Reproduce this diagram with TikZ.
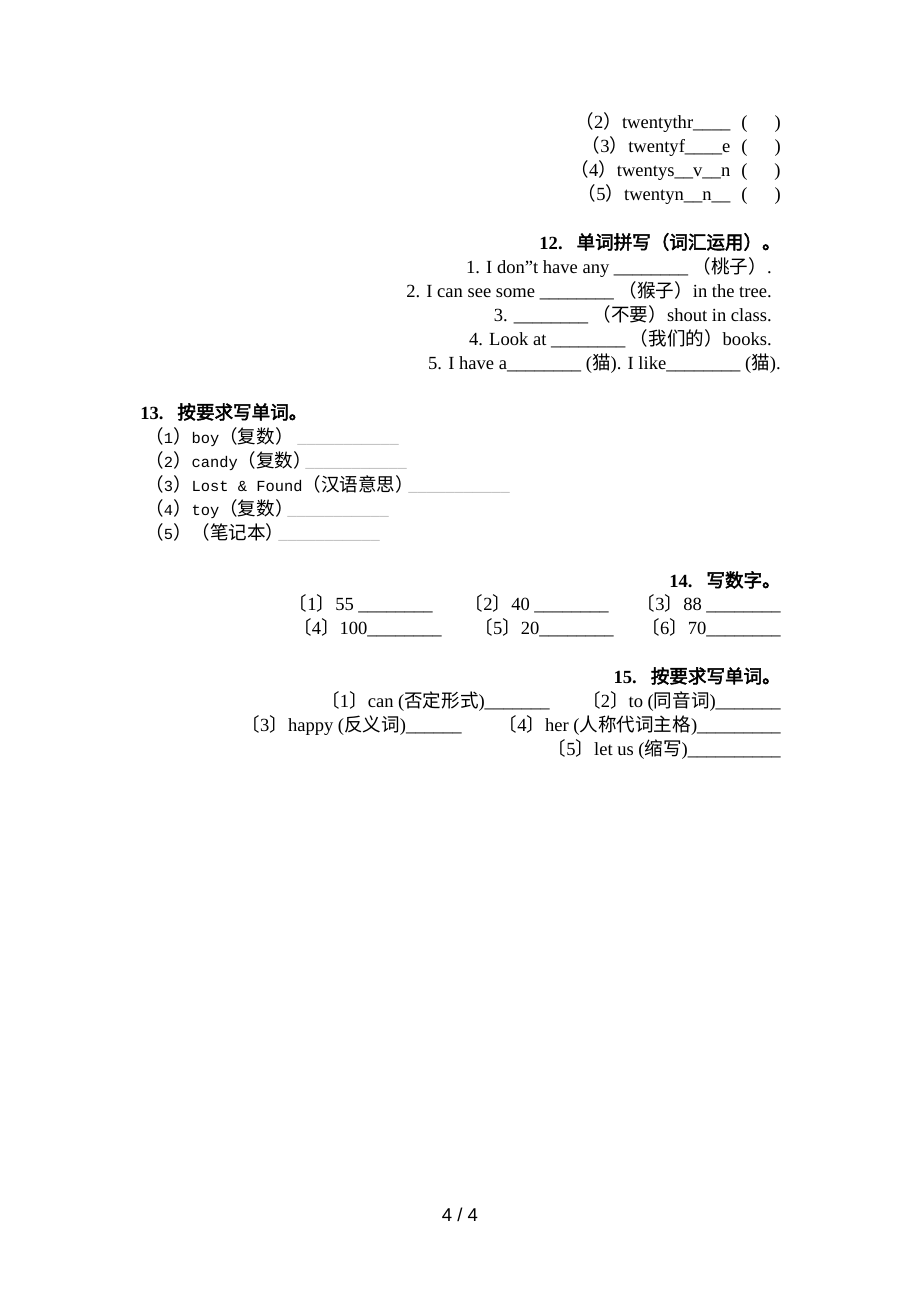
\documentclass[tikz,border=0pt]{standalone}
\usepackage{fontspec}
\setmainfont{Liberation Serif}
\newfontfamily\cjk[AutoFakeBold=2.5,Kerning=Off]{Noto Sans CJK SC}
\newfontfamily\simmono[Scale=0.83]{Liberation Mono}
\newfontfamily\pagefont{Liberation Sans}
\newcommand\zh[1]{{\cjk #1}}
\newcommand\blank[1]{\foreach \i in {1,...,#1}{\_}}
\newcommand\answer{\hspace{0.6em}(\hspace{1.45em})}

\begin{document}
\begin{tikzpicture}[x=0.6467pt,y=-0.6467pt,
                    every node/.style={inner sep=0pt,font=\fontsize{12pt}{14pt}\selectfont},
                    rline/.style={anchor=base east},
                    lline/.style={anchor=base west},
                    head/.style={anchor=base east,font=\fontsize{12pt}{14pt}\selectfont\bfseries},
                    mono/.style={anchor=base west,font=\simmono\fontsize{12pt}{14pt}\selectfont},
                    gap/.style={mono,gray!70}]
  \useasboundingbox (0,0) rectangle (920,1302);

  % spelling of twenty-something
  \node[rline] (t2) at (781,128) {\zh{（}2\zh{）}twentythr\blank{4}\answer};
  \node[rline] (t3) at (781,152) {\zh{（}3\zh{）}twentyf\blank{4}e\answer};
  \node[rline] (t4) at (781,176) {\zh{（}4\zh{）}twentys\blank{2}v\blank{2}n\answer};
  \node[rline] (t5) at (781,200) {\zh{（}5\zh{）}twentyn\blank{2}n\blank{2}\answer};

  % 12
  \node[head]  (h12) at (781,249) {12.\hspace{0.75em}\zh{单词拼写（词汇运用）。}};
  \node[rline] (a1)  at (772,273) {1. I don\char"22 t have any \blank{8} \zh{（桃子）}.};
  \node[rline] (a2)  at (772,297) {2. I can see some \blank{8} \zh{（猴子）}in the tree.};
  \node[rline] (a3)  at (772,321) {3. \blank{8} \zh{（不要）}shout in class.};
  \node[rline] (a4)  at (772,345) {4. Look at \blank{8} \zh{（我们的）}books.};
  \node[rline] (a5)  at (781,369) {5. I have a\blank{8} (\zh{猫}). I like\blank{8} (\zh{猫}).};

  % 13
  \node[lline,font=\fontsize{12pt}{14pt}\selectfont\bfseries] (h13) at (140,419) {13.\hspace{0.75em}\zh{按要求写单词。}};
  \node[mono] (b1) at (145,443) {\zh{（}1\zh{）}boy\zh{（复数）}};
  \node[mono] (b2) at (145,467) {\zh{（}2\zh{）}candy\zh{（复数）}};
  \node[mono] (b3) at (145,491) {\zh{（}3\zh{）}Lost \& Found\zh{（汉语意思）}};
  \node[mono] (b4) at (145,515) {\zh{（}4\zh{）}toy\zh{（复数）}};
  \node[mono] (b5) at (145,539) {\zh{（}5\zh{）}\zh{（笔记本）}};
  \node[gap] (u1) at (297,443) {\blank{11}};
  \node[gap] (u2) at (305,467) {\blank{11}};
  \node[gap] (u3) at (408,491) {\blank{11}};
  \node[gap] (u4) at (287,515) {\blank{11}};
  \node[gap] (u5) at (278,539) {\blank{11}};

  % 14
  \node[head]  (h14) at (781,587) {14.\hspace{0.75em}\zh{写数字。}};
  \node[rline] (c1)  at (433,610) {\zh{〔}1\zh{〕}55 \blank{8}};
  \node[rline] (c2)  at (609,610) {\zh{〔}2\zh{〕}40 \blank{8}};
  \node[rline] (c3)  at (781,610) {\zh{〔}3\zh{〕}88 \blank{8}};
  \node[rline] (c4)  at (442,634) {\zh{〔}4\zh{〕}100\blank{8}};
  \node[rline] (c5)  at (614,634) {\zh{〔}5\zh{〕}20\blank{8}};
  \node[rline] (c6)  at (781,634) {\zh{〔}6\zh{〕}70\blank{8}};

  % 15
  \node[head]  (h15) at (781,683) {15.\hspace{0.75em}\zh{按要求写单词。}};
  \node[rline] (d1)  at (550,707) {\zh{〔}1\zh{〕}can (\zh{否定形式})\blank{7}};
  \node[rline] (d2)  at (781,707) {\zh{〔}2\zh{〕}to (\zh{同音词})\blank{7}};
  \node[rline] (d3)  at (462,731) {\zh{〔}3\zh{〕}happy (\zh{反义词})\blank{6}};
  \node[rline] (d4)  at (781,731) {\zh{〔}4\zh{〕}her (\zh{人称代词主格})\blank{9}};
  \node[rline] (d5)  at (781,755) {\zh{〔}5\zh{〕}let us (\zh{缩写})\blank{10}};

  \node[anchor=base,font=\pagefont\fontsize{12pt}{14pt}\selectfont] (pg) at (460,1221) {4 / 4};
\end{tikzpicture}
\end{document}
